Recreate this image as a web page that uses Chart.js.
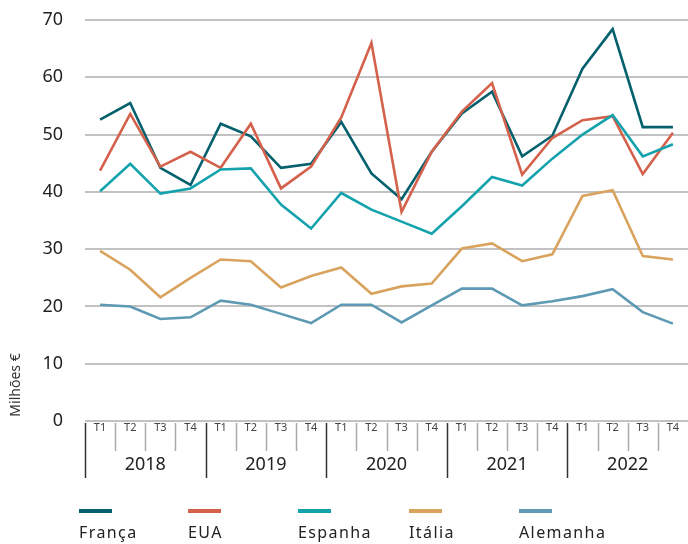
<!DOCTYPE html>
<html>
<head>
<meta charset="utf-8">
<script src="https://cdn.jsdelivr.net/npm/chart.js@4"></script>
<style>
  html, body { margin: 0; padding: 0; background: #fff; }
  #wrap { width: 688px; height: 544px; position: relative; }
</style>
</head>
<body>
<div id="wrap"><canvas id="chart"></canvas></div>
<script>
'use strict';

/* ── dados (milhões €) ── */
const years    = ['2018', '2019', '2020', '2021', '2022'];
const quarters = ['T1', 'T2', 'T3', 'T4'];
const labels   = years.flatMap(y => quarters.map(q => q));

const franca   = [52.6, 55.5, 44.2, 41.2, 51.9, 49.7, 44.2, 44.9, 52.2, 43.2, 38.7, 47.0, 53.7, 57.5, 46.2, 49.8, 61.5, 68.4, 51.3, 51.3];
const eua      = [43.7, 53.6, 44.4, 47.0, 44.2, 51.9, 40.6, 44.4, 53.0, 66.0, 36.5, 47.0, 54.0, 59.0, 43.0, 49.4, 52.5, 53.2, 43.1, 50.3];
const espanha  = [40.1, 44.9, 39.7, 40.6, 43.9, 44.1, 37.8, 33.6, 39.8, 36.9, 34.8, 32.7, 37.5, 42.6, 41.1, 45.8, 50.0, 53.4, 46.2, 48.3];
const italia   = [29.7, 26.4, 21.6, 25.0, 28.2, 27.9, 23.3, 25.3, 26.8, 22.2, 23.5, 24.0, 30.1, 31.0, 27.9, 29.1, 39.3, 40.3, 28.8, 28.2];
const alemanha = [20.3, 20.0, 17.8, 18.1, 21.0, 20.3, 18.7, 17.1, 20.3, 20.3, 17.2, 20.2, 23.1, 23.1, 20.2, 20.9, 21.8, 23.0, 19.0, 17.0];

const FONT = "'Noto Sans', sans-serif";

function serie(label, data, color, order) {
  return {
    label, data, order,
    borderColor: color,
    backgroundColor: color,
    borderWidth: 2.6,
    pointRadius: 0,
    tension: 0,
    fill: false,
  };
}

/* ── eixos extra, legenda e título (desenhados à mão) ── */
const extras = {
  id: 'extras',
  afterDraw(chart) {
    const { ctx, scales: { x }, chartArea } = chart;
    const step = x.getPixelForValue(1) - x.getPixelForValue(0);
    const top  = chartArea.bottom + 2;
    ctx.save();

    // trimestres + separadores
    ctx.font = `11px ${FONT}`;
    ctx.fillStyle = '#444';
    ctx.textAlign = 'center';
    ctx.textBaseline = 'middle';
    labels.forEach((lab, i) => {
      const px = x.getPixelForValue(i);
      ctx.fillText(lab, px, 428);
      const edge = px - step / 2;
      const isYear = i % 4 === 0;
      ctx.beginPath();
      ctx.strokeStyle = isYear ? '#333' : '#aaa';
      ctx.lineWidth = 1.5;
      ctx.moveTo(Math.round(edge) + 0.5, top);
      ctx.lineTo(Math.round(edge) + 0.5, isYear ? 478 : 451);
      ctx.stroke();
    });

    // anos
    ctx.font = `18px ${FONT}`;
    ctx.fillStyle = '#222';
    years.forEach((yr, j) => {
      const a = x.getPixelForValue(j * 4);
      const b = x.getPixelForValue(j * 4 + 3);
      ctx.fillText(yr, (a + b) / 2, 465);
    });

    // título do eixo y
    ctx.save();
    ctx.translate(16, 385);
    ctx.rotate(-Math.PI / 2);
    ctx.font = `14px ${FONT}`;
    ctx.fillStyle = '#333';
    ctx.fillText('Milhões €', 0, 0);
    ctx.restore();

    // legenda
    const legX = [79, 188, 298, 409, 519];
    ctx.textAlign = 'left';
    ctx.textBaseline = 'alphabetic';
    ctx.font = `16px ${FONT}`;
    ctx.letterSpacing = '1.4px';
    chart.data.datasets.forEach((ds, i) => {
      ctx.fillStyle = ds.borderColor;
      ctx.fillRect(legX[i], 509, 33, 4);
      ctx.fillStyle = '#222';
      ctx.fillText(ds.label, legX[i], 538);
    });

    ctx.restore();
  }
};

new Chart(document.getElementById('chart'), {
  type: 'line',
  data: {
    labels,
    datasets: [
      serie('França',   franca,   '#04606d', 5),
      serie('EUA',      eua,      '#d4614b', 4),
      serie('Espanha',  espanha,  '#14a3ad', 3),
      serie('Itália',   italia,   '#d9a35e', 2),
      serie('Alemanha', alemanha, '#5e9ab3', 1),
    ]
  },
  options: {
    responsive: true,
    maintainAspectRatio: false,
    animation: false,
    layout: { padding: { top: 20, right: 0, bottom: 0, left: 0 } },
    plugins: {
      legend:  { display: false },
      tooltip: { enabled: false },
    },
    scales: {
      x: {
        offset: true,
        grid:   { display: false },
        border: { display: false },
        ticks:  { display: false },
        afterFit: s => { s.height = 123; },
      },
      y: {
        min: 0, max: 70,
        grid:   { color: '#c2c2c2', lineWidth: 2, drawTicks: false },
        border: { display: false },
        ticks:  { stepSize: 10, padding: 22, color: '#222', font: { family: FONT, size: 18 } },
        afterFit: s => { s.width = 85; s.paddingTop = 0; s.paddingBottom = 0; },
      }
    }
  },
  plugins: [extras]
});
</script>
</body>
</html>
